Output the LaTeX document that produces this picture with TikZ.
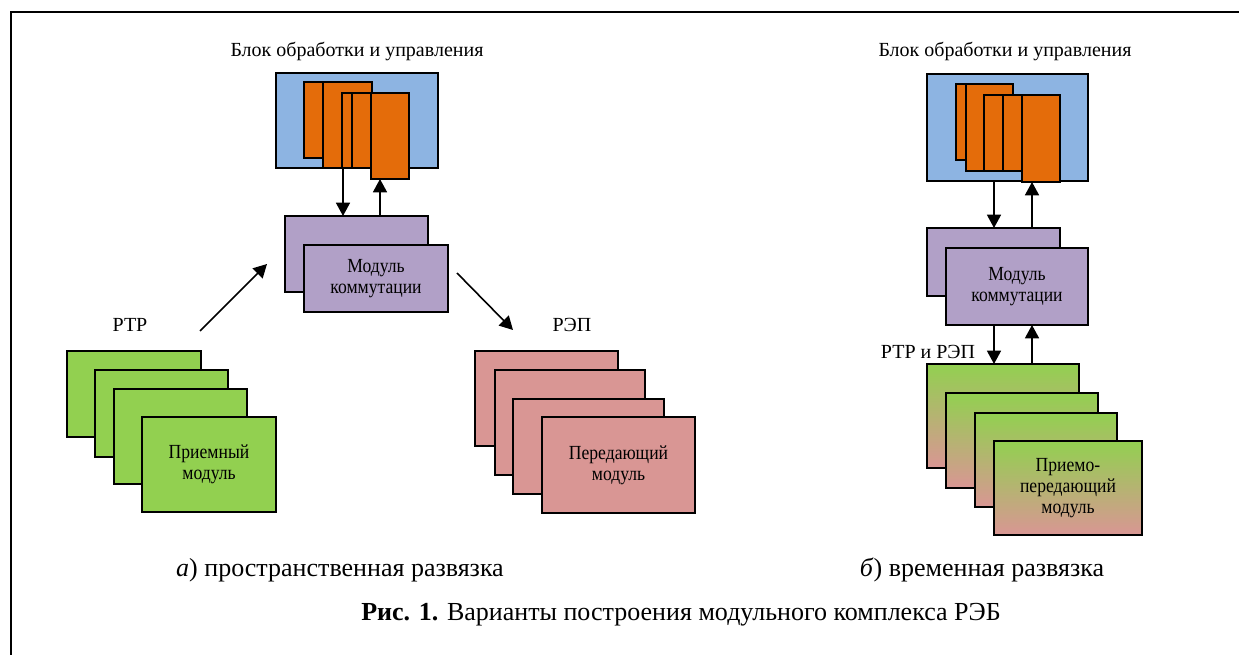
\documentclass[tikz,border=0pt]{standalone}
\usepackage{fontspec}
\setmainfont{Liberation Serif}
\newfontfamily\narrowserif{Liberation Serif}[FakeStretch=0.88]
\usetikzlibrary{arrows.meta}

\definecolor{bluBg}{RGB}{141,180,226}
\definecolor{orgBk}{RGB}{228,108,10}
\definecolor{prpMd}{RGB}{177,160,199}
\definecolor{grnMd}{RGB}{146,208,80}
\definecolor{pnkMd}{RGB}{217,150,148}

\tikzset{
  blk/.style={draw, line width=1.4pt, inner sep=0pt, outer sep=0pt, anchor=north west, align=center, font=\narrowserif\fontsize{15}{15.5}\selectfont},
  sz/.style 2 args={minimum width=#1*0.75pt, minimum height=#2*0.75pt},
  lbl/.style={inner sep=0.75pt, font=\fontsize{15}{17}\selectfont},
  captxt/.style={inner sep=0.75pt, font=\fontsize{19.5}{22}\selectfont},
  arr/.style={line width=1.2pt, -{Triangle[length=10pt,width=10.5pt]}}
}

\begin{document}
\begin{tikzpicture}[x=0.75pt,y=0.75pt,yscale=-1,xscale=1]
\useasboundingbox (0,0) rectangle (1239,655);

%Frame
\draw [line width=1.5pt] (11,655) -- (11,12) -- (1239,12) ;

%Left: control block
\node [blk, fill=bluBg, sz={162}{95}] (blkL) at (276,73) {};
\node [blk, fill=orgBk, sz={41}{76}] (orgL1) at (304,82) {};
\node [blk, fill=orgBk, sz={49}{86}] (orgL2) at (323,82) {};
\node [blk, fill=orgBk, sz={45}{75}] (orgL3) at (342,93) {};
\node [blk, fill=orgBk, sz={45}{75}] (orgL4) at (352,93) {};
\node [blk, fill=orgBk, sz={38}{86}] (orgL5) at (371,93) {};
%Left: switching module
\node [blk, fill=prpMd, sz={143}{76}] (modLb) at (285,216) {};
\node [blk, fill=prpMd, sz={144}{67}] (modLf) at (304,245) {Модуль\\коммутации};
%Left: receivers
\node [blk, fill=grnMd, sz={134}{86}] (rtpL1) at (67,351) {};
\node [blk, fill=grnMd, sz={133}{87}] (rtpL2) at (95,370) {};
\node [blk, fill=grnMd, sz={133}{95}] (rtpL3) at (114,389) {};
\node [blk, fill=grnMd, sz={134}{95}] (rtpL4) at (142,417) {Приемный\\модуль};
%Left: transmitters
\node [blk, fill=pnkMd, sz={143}{95}] (repL1) at (475,351) {};
\node [blk, fill=pnkMd, sz={150}{105}] (repL2) at (495,370) {};
\node [blk, fill=pnkMd, sz={151}{95}] (repL3) at (513,399) {};
\node [blk, fill=pnkMd, sz={153}{96}] (repL4) at (542,417) {Передающий\\модуль};

%Right: control block
\node [blk, fill=bluBg, sz={161}{107}] (blkR) at (927,74) {};
\node [blk, fill=orgBk, sz={40}{76}] (orgR1) at (956,84) {};
\node [blk, fill=orgBk, sz={47}{87}] (orgR2) at (966,84) {};
\node [blk, fill=orgBk, sz={45}{76}] (orgR3) at (984,95) {};
\node [blk, fill=orgBk, sz={45}{76}] (orgR4) at (1003,95) {};
\node [blk, fill=orgBk, sz={38}{87}] (orgR5) at (1022,95) {};
%Right: switching module
\node [blk, fill=prpMd, sz={133}{68}] (modRb) at (927,228) {};
\node [blk, fill=prpMd, sz={142}{77}] (modRf) at (946,248) {Модуль\\коммутации};
%Right: transceivers
\node [blk, top color=grnMd, bottom color=pnkMd, sz={152}{104}] (trR1) at (927,364) {};
\node [blk, top color=grnMd, bottom color=pnkMd, sz={152}{95}] (trR2) at (946,393) {};
\node [blk, top color=grnMd, bottom color=pnkMd, sz={142}{94}] (trR3) at (975,413) {};
\node [blk, top color=grnMd, bottom color=pnkMd, sz={148}{94}] (trR4) at (994,441) {Приемо-\\передающий\\модуль};

%Arrow columns
\coordinate (dnL) at (343,0);
\coordinate (upL) at (380,0);
\coordinate (dnR) at (994,0);
\coordinate (upR) at (1032,0);
\coordinate (inS) at (200,331);
\coordinate (inE) at (267,264);
\coordinate (outS) at (457,273);
\coordinate (outE) at (513,330);

\draw [arr] (blkL.south -| dnL) -- (modLb.north -| dnL) ;
\draw [arr] (modLb.north -| upL) -- (orgL5.south -| upL) ;
\draw [arr] (inS) -- (inE) ;
\draw [arr] (outS) -- (outE) ;
\draw [arr] (blkR.south -| dnR) -- (modRb.north -| dnR) ;
\draw [arr] (modRb.north -| upR) -- (orgR5.south -| upR) ;
\draw [arr] (modRf.south -| dnR) -- (trR1.north -| dnR) ;
\draw [arr] (trR1.north -| upR) -- (modRf.south -| upR) ;

% Text Node
\node [lbl] (tBL) at (357,52) {Блок обработки и управления};
% Text Node
\node [lbl] (tBR) at (1005,52) {Блок обработки и управления};
% Text Node
\node [lbl] (tRtp) at (130,325) {РТР};
% Text Node
\node [lbl] (tRep) at (572,325) {РЭП};
% Text Node
\node [lbl] (tBoth) at (928,352) {РТР и РЭП};
% Text Node
\node [captxt] (capA) at (340,570) {\textit{а}) пространственная развязка};
% Text Node
\node [captxt] (capB) at (982,570) {\textit{б}) временная развязка};
% Text Node
\node [captxt] (capFig) at (681,615) {\textbf{Рис. 1.} Варианты построения модульного комплекса РЭБ};

\end{tikzpicture}
\end{document}
